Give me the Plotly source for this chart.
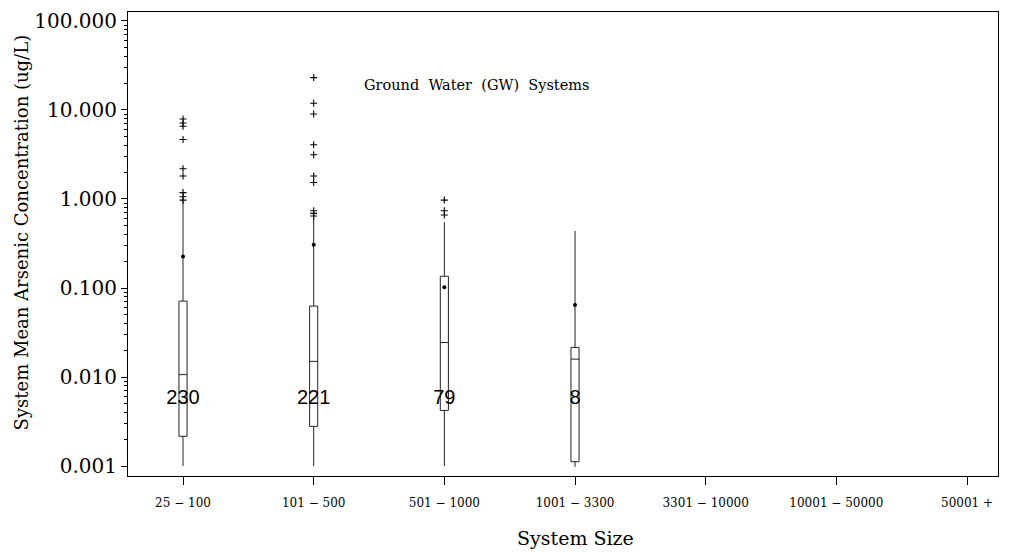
import plotly.graph_objects as go

categories = ["25 \u2212 100", "101 \u2212 500", "501 \u2212 1000", "1001 \u2212 3300",
              "3301 \u2212 10000", "10001 \u2212 50000", "50001 +"]
box_pos = [0, 1, 2, 3]
q1 = [0.00216, 0.00279, 0.00422, 0.00112]
median = [0.01064, 0.0150, 0.0244, 0.0159]
q3 = [0.0713, 0.0627, 0.1355, 0.0215]
lowerfence = [0.001, 0.001, 0.001, 0.00098]
upperfence = [0.95, 0.64, 0.547, 0.438]
means = [0.226, 0.306, 0.102, 0.0643]
counts = ["230", "221", "79", "8"]
count_level = 0.00574

outliers_g1 = [7.92, 7.14, 6.57, 4.66, 2.19, 1.81, 1.18, 1.06, 0.97]
outliers_g2 = [23.1, 11.9, 9.0, 4.06, 3.14, 1.81, 1.53, 0.738, 0.689, 0.644]
outliers_g3 = [0.972, 0.738, 0.661]
outliers = [outliers_g1, outliers_g2, outliers_g3]

ytick_vals = [0.001, 0.01, 0.1, 1, 10, 100]
ytick_text = ["0.001", "0.010", "0.100", "1.000", "10.000", "100.000"]

SERIF = "DejaVu Serif"

fig = go.Figure()
fig.add_trace(go.Box(
    x=box_pos, q1=q1, median=median, q3=q3,
    lowerfence=lowerfence, upperfence=upperfence,
    width=0.062, whiskerwidth=0, boxpoints=False,
    line=dict(color="#222222", width=1), fillcolor="rgba(255,255,255,0)",
    showlegend=False, hoverinfo="skip"))

for i, vals in enumerate(outliers):
    fig.add_trace(go.Scatter(
        x=[box_pos[i]] * len(vals), y=vals, mode="markers",
        marker=dict(symbol="cross-thin", size=5, line=dict(width=1.1, color="black"), color="black"),
        showlegend=False, hoverinfo="skip"))

fig.add_trace(go.Scatter(
    x=box_pos, y=means, mode="markers",
    marker=dict(symbol="circle", size=4, color="black"),
    showlegend=False, hoverinfo="skip"))

fig.add_trace(go.Scatter(
    x=box_pos, y=[count_level] * len(counts), mode="text", text=counts,
    textposition="middle center",
    textfont=dict(family="Liberation Sans, Arial", size=20, color="black"),
    showlegend=False, hoverinfo="skip"))

minor_vals = [m * d for d in ytick_vals[:-1] for m in range(2, 10)]

fig.update_layout(
    width=1003, height=545,
    margin=dict(l=120, r=13, t=1, b=77),
    plot_bgcolor="white", paper_bgcolor="white",
    showlegend=False,
    xaxis=dict(
        range=[-0.421, 6.237], tickmode="array", tickvals=list(range(len(categories))),
        ticktext=categories, ticks="outside", ticklen=8, tickcolor="black",
        ticklabelstandoff=8,
        showline=True, linecolor="black", linewidth=1, mirror=True,
        showgrid=False, zeroline=False,
        tickfont=dict(family=SERIF, size=12, color="black")),
    yaxis=dict(
        type="log", range=[-3.1116, 2.1004], tickmode="array",
        tickvals=ytick_vals, ticktext=ytick_text,
        ticks="outside", ticklen=6, tickcolor="black",
        ticklabeloverflow="allow",
        minor=dict(tickmode="array", tickvals=minor_vals, ticks="outside",
                   ticklen=3, tickcolor="black", showgrid=False),
        showline=True, linecolor="black", linewidth=1, mirror=True,
        showgrid=False, zeroline=False,
        tickfont=dict(family=SERIF, size=20, color="black")),
    annotations=[
        dict(text="System Size", xref="x", yref="paper", x=3, y=-0.133,
             showarrow=False, xanchor="center", yanchor="middle",
             font=dict(family=SERIF, size=19, color="black")),
        dict(text="System Mean Arsenic Concentration (ug/L)", xref="paper", yref="paper",
             x=-0.122, y=0.5246, textangle=-90, showarrow=False,
             xanchor="center", yanchor="middle",
             font=dict(family=SERIF, size=18, color="black")),
        dict(text="Ground  Water  (GW)  Systems", xref="paper", yref="paper",
             x=0.401, y=0.8437, showarrow=False, xanchor="center", yanchor="middle",
             font=dict(family=SERIF, size=14.5, color="black")),
    ],
)

fig.write_html("out.html")
